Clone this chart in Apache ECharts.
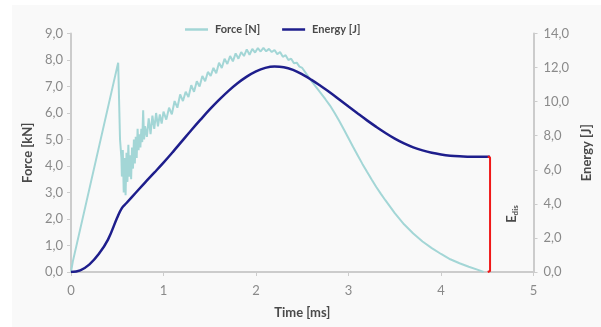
<!DOCTYPE html>
<html>
<head>
<meta charset="utf-8">
<script src="https://cdn.jsdelivr.net/npm/echarts@6/dist/echarts.min.js"></script>
<style>
html,body{margin:0;padding:0;background:#fff;}
#c{width:601px;height:327px;}
</style>
</head>
<body>
<div id="c"></div>
<script>
// Force [kN] vs time [ms]
var forceT = [0,0.02,0.51,0.53,0.545,0.55,0.56,0.57,0.58,0.59,0.60,0.61,0.62,0.63,0.64,0.65,0.66,0.67,0.68,0.69,0.70,0.71,0.72,0.73,0.74,0.75,0.76,0.77,0.78,0.79,
  0.80,0.82,0.84,0.86,0.88,0.90,0.92,0.94,0.96,0.98,
  1.00,1.03,1.06,1.09,1.12,1.15,1.18,1.21,1.24,1.27,1.30,1.33,1.36,1.39,1.42,1.45,1.48,1.51,1.54,1.57,1.60,1.63,1.66,1.69,1.72,1.75,1.78,1.81,1.84,1.87,1.90,1.93,1.96,1.99,
  2.02,2.05,2.08,2.11,2.14,2.17,2.20,2.23,2.26,2.29,2.32,2.35,2.38,2.41,2.44,2.47,2.50,2.55,2.60,2.65,2.70,2.75,2.80,2.85,2.90,2.95,
  3.00,3.05,3.10,3.15,3.20,3.25,3.30,3.35,3.40,3.50,3.60,3.70,3.80,3.90,4.00,4.10,4.20,4.30,4.40,4.46];
var forceKN = [0,0.4,7.9,5.0,4.3,3.6,4.6,3.0,4.3,2.9,4.5,3.4,4.8,3.6,4.4,3.5,4.7,3.9,5.0,4.1,5.1,4.3,5.4,4.6,5.2,4.7,5.4,4.9,6.1,5.0,
  5.5,5.1,5.8,5.2,5.9,5.4,6.0,5.5,5.95,5.6,
  6.05,5.75,6.2,5.95,6.45,6.2,6.7,6.45,6.8,6.6,7.05,6.8,7.2,7.0,7.4,7.2,7.55,7.4,7.7,7.5,7.9,7.7,8.05,7.85,8.15,7.95,8.25,8.05,8.3,8.15,8.4,8.2,8.42,8.28,
  8.45,8.32,8.46,8.33,8.42,8.3,8.38,8.22,8.3,8.12,8.18,8.0,8.05,7.88,7.9,7.75,7.7,7.45,7.2,6.98,6.75,6.52,6.28,6.0,5.7,5.38,
  5.05,4.72,4.4,4.08,3.78,3.49,3.21,2.95,2.7,2.22,1.8,1.45,1.15,0.9,0.68,0.48,0.33,0.2,0.08,0];

// Energy [J] vs time [ms]
var energyT = [0,0.1,0.2,0.3,0.4,0.5,0.55,0.6,0.7,0.8,0.9,1.0,1.1,1.2,1.3,1.4,1.5,1.6,1.7,1.8,1.9,2.0,2.1,2.2,2.3,2.4,2.5,2.6,2.7,2.8,2.9,3.0,3.1,3.2,3.3,3.4,3.5,3.6,3.7,3.8,3.9,4.0,4.1,4.2,4.3,4.4,4.53];
var energyJ = [0,0.1,0.45,1.05,1.9,3.2,3.75,4.05,4.65,5.25,5.83,6.42,7.04,7.68,8.32,8.94,9.54,10.1,10.62,11.08,11.47,11.78,11.98,12.06,12.02,11.86,11.6,11.28,10.92,10.54,10.13,9.71,9.3,8.9,8.52,8.16,7.83,7.55,7.32,7.14,7.0,6.9,6.83,6.79,6.77,6.76,6.76];

// E_dis bracket (time, energy)
var edisT = [4.505,4.53,4.53,4.55,4.53,4.53,4.505];
var edisJ = [6.78,6.72,3.45,3.4,3.35,0.06,0];

var xTicks = [0,1,2,3,4,5];
var forceTicks = [0,9,1];
var energyTicks = [0,14,2];

function pairs(a,b){ return a.map(function(v,i){ return [v,b[i]]; }); }
function fmt(v){ return v.toFixed(1).replace('.', ','); }

var FONT = 'Lato';
var chart = echarts.init(document.getElementById('c'), null, {renderer:'canvas'});
chart.setOption({
  backgroundColor: '#f9f9f9',
  animation: false,
  textStyle: {fontFamily: FONT},
  grid: {left:71, right:66, top:33.5, bottom:55, containLabel:false},
  legend: {
    left: 180, top: 19, itemWidth: 23, itemHeight: 2.5, itemGap: 22, icon:'rect',
    textStyle: {color:'#4a4a4a', fontSize:11, fontFamily:FONT, fontWeight:'bold', padding:[0,0,0,2]},
    data: ['Force [N]','Energy [J]']
  },
  xAxis: {
    type:'value', min:xTicks[0], max:xTicks[xTicks.length-1], interval:1,
    name:'Time [ms]', nameLocation:'middle', nameGap:34,
    nameTextStyle:{color:'#4a4a4a', fontSize:13, fontWeight:'bold', fontFamily:FONT},
    axisLine:{show:true, lineStyle:{color:'#cccccc', width:2}},
    axisTick:{show:true, inside:false, length:4, lineStyle:{color:'#cccccc'}},
    axisLabel:{color:'#8a8a8a', fontSize:13, margin:12},
    splitLine:{show:false}
  },
  yAxis: [{
    type:'value', min:forceTicks[0], max:forceTicks[1], interval:forceTicks[2],
    name:'Force [kN]', nameLocation:'middle', nameGap:36,
    nameTextStyle:{color:'#4a4a4a', fontSize:13, fontWeight:'bold', fontFamily:FONT},
    axisLine:{show:true, lineStyle:{color:'#cccccc', width:2}},
    axisTick:{show:true, inside:false, length:4, lineStyle:{color:'#cccccc'}},
    axisLabel:{color:'#8a8a8a', fontSize:13, margin:8, formatter:fmt},
    splitLine:{show:false}
  },{
    type:'value', min:energyTicks[0], max:energyTicks[1], interval:energyTicks[2],
    name:'Energy [J]', nameLocation:'middle', nameGap:40, nameRotate:90,
    nameTextStyle:{color:'#4a4a4a', fontSize:13, fontWeight:'bold', fontFamily:FONT},
    axisLine:{show:true, lineStyle:{color:'#cccccc', width:2}},
    axisTick:{show:true, inside:false, length:4, lineStyle:{color:'#cccccc'}},
    axisLabel:{color:'#8a8a8a', fontSize:13, margin:10, formatter:fmt},
    splitLine:{show:false}
  }],
  series: [{
    name:'Force [N]', type:'line', yAxisIndex:0, symbol:'none', smooth:false,
    lineStyle:{color:'#a3d6d6', width:2}, itemStyle:{color:'#a3d6d6'},
    data: pairs(forceT, forceKN), z:2
  },{
    name:'Energy [J]', type:'line', yAxisIndex:1, symbol:'none', smooth:0.4,
    lineStyle:{color:'#1e1e8c', width:2.5}, itemStyle:{color:'#1e1e8c'},
    data: pairs(energyT, energyJ), z:3
  },{
    name:'Edis', type:'line', yAxisIndex:1, symbol:'none', smooth:false,
    lineStyle:{color:'#f01818', width:2}, itemStyle:{color:'#f01818'},
    data: pairs(edisT, edisJ), z:4
  }]
});

var p = chart.convertToPixel({xAxisIndex:0, yAxisIndex:1}, [4.53, 3.4]);
chart.setOption({
  graphic: [
    {type:'rect', shape:{x:0,y:0,width:12,height:327}, style:{fill:'#ffffff'}, z:-1, silent:true},
    {type:'rect', shape:{x:0,y:0,width:601,height:5}, style:{fill:'#ffffff'}, z:-1, silent:true},
    {type:'text', x:p[0]+22, y:p[1], rotation:Math.PI/2,
     style:{text:'{e|E}{s|dis}', align:'center', verticalAlign:'middle',
       rich:{e:{fontSize:13, fill:'#4a4a4a', fontFamily:FONT, fontWeight:'bold'},
             s:{fontSize:8, fill:'#4a4a4a', fontFamily:FONT, fontWeight:'bold', padding:[6,0,0,0]}}}}
  ]
});
</script>
</body>
</html>
